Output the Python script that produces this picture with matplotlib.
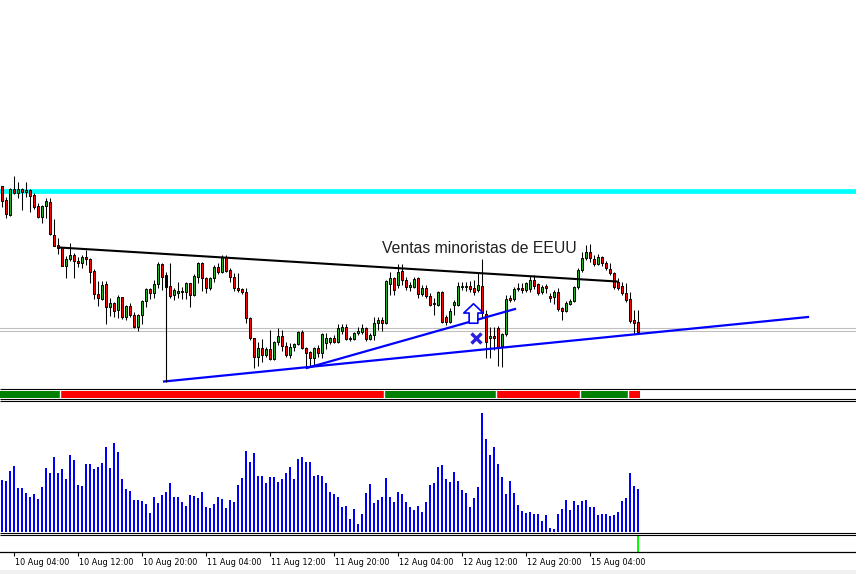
import numpy as np
import matplotlib
matplotlib.use("Agg")
import matplotlib.pyplot as plt
from matplotlib.lines import Line2D
from matplotlib.patches import Rectangle
from matplotlib.path import Path
from matplotlib.transforms import ScaledTranslation

# M30 candles, price in points (chart units)
opens = [214, 200, 185, 211, 207, 211, 208, 210, 205, 194,
         183, 194, 198, 165, 155, 152, 134, 141, 145, 139,
         137, 143, 141, 129, 106, 101, 116, 93, 97, 90,
         103, 83, 94, 85, 73, 85, 99, 111, 107, 116,
         136, 125, 114, 105, 107, 109, 108, 117, 105, 123,
         137, 122, 112, 122, 133, 128, 143, 130, 123, 112,
         111, 108, 82, 62, 43, 52, 45, 51, 41, 58,
         64, 54, 45, 53, 56, 68, 52, 48, 42, 52,
         47, 57, 58, 62, 58, 69, 73, 62, 61, 67,
         68, 72, 61, 65, 77, 80, 77, 116, 122, 115,
         129, 120, 113, 113, 122, 106, 112, 104, 97, 95,
         108, 83, 78, 95, 95, 113, 113, 114, 112, 110,
         114, 86, 62, 64, 72, 54, 66, 102, 101, 111,
         112, 110, 111, 120, 116, 108, 114, 104, 103, 108,
         92, 89, 96, 99, 113, 130, 142, 148, 141, 136,
         143, 137, 131, 127, 118, 114, 107, 101, 80, 78]
highs = [214, 203, 212, 224, 218, 212, 218, 211, 207, 197,
         195, 202, 202, 181, 162, 153, 144, 157, 147, 143,
         145, 150, 142, 131, 119, 119, 119, 102, 98, 105,
         103, 95, 97, 88, 86, 100, 112, 112, 120, 138,
         137, 128, 137, 112, 118, 113, 118, 117, 126, 138,
         138, 123, 123, 135, 137, 145, 145, 132, 127, 127,
         112, 112, 83, 62, 58, 61, 53, 70, 59, 72,
         70, 58, 57, 57, 69, 70, 53, 49, 53, 55,
         67, 67, 63, 65, 76, 76, 76, 64, 68, 73,
         76, 73, 67, 83, 83, 83, 120, 128, 123, 136,
         136, 123, 118, 123, 123, 115, 115, 107, 102, 109,
         109, 85, 92, 100, 118, 118, 118, 119, 120, 128,
         141, 90, 73, 73, 74, 67, 105, 105, 113, 117,
         117, 118, 124, 125, 117, 115, 116, 107, 110, 112,
         93, 99, 101, 114, 132, 148, 155, 156, 145, 146,
         144, 139, 137, 128, 122, 118, 117, 108, 90, 90]
lows = [193, 182, 184, 206, 202, 190, 203, 188, 191, 182,
        177, 182, 165, 154, 146, 134, 122, 139, 122, 133,
        132, 135, 117, 101, 94, 100, 76, 84, 83, 82,
        81, 80, 83, 72, 69, 76, 93, 101, 102, 112,
        110, 112, 102, 100, 102, 101, 101, 93, 104, 117,
        109, 107, 110, 118, 126, 127, 128, 118, 109, 108,
        106, 77, 60, 32, 34, 38, 43, 40, 40, 55,
        49, 43, 42, 49, 55, 51, 33, 33, 35, 43,
        42, 51, 56, 57, 57, 66, 60, 59, 60, 65,
        66, 59, 60, 60, 70, 69, 76, 105, 105, 112,
        115, 110, 109, 112, 102, 104, 102, 94, 85, 94,
        77, 75, 77, 85, 94, 110, 109, 108, 105, 108,
        82, 42, 42, 50, 34, 33, 64, 98, 99, 109,
        107, 108, 108, 111, 105, 106, 107, 98, 96, 89,
        80, 88, 95, 98, 111, 128, 140, 138, 134, 135,
        134, 130, 125, 111, 110, 105, 98, 77, 66, 66]
closes = [199, 186, 211, 207, 211, 208, 210, 204, 193, 183,
          194, 199, 166, 154, 152, 134, 141, 145, 139, 137,
          143, 141, 128, 106, 102, 115, 93, 97, 89, 103,
          83, 94, 85, 73, 85, 99, 111, 107, 116, 136,
          123, 113, 104, 110, 109, 108, 117, 105, 124, 137,
          122, 112, 122, 133, 128, 143, 129, 123, 112, 110,
          108, 82, 62, 43, 52, 45, 51, 41, 58, 64,
          54, 45, 53, 56, 68, 52, 47, 42, 52, 47,
          66, 62, 62, 58, 72, 73, 61, 61, 67, 69,
          72, 61, 65, 77, 80, 77, 119, 122, 110, 128,
          120, 113, 115, 121, 106, 112, 104, 95, 96, 108,
          78, 78, 89, 98, 114, 114, 114, 111, 108, 115,
          87, 58, 64, 62, 53, 66, 101, 100, 111, 112,
          110, 117, 120, 114, 107, 113, 112, 102, 108, 91,
          89, 97, 99, 113, 130, 142, 148, 142, 136, 143,
          137, 132, 127, 113, 112, 107, 100, 79, 77, 68]

# tick volume per bar
volumes = [52, 51, 61, 66, 44, 44, 39, 35, 38, 33,
           45, 64, 59, 75, 59, 63, 53, 77, 72, 47,
           46, 68, 68, 63, 65, 69, 85, 64, 89, 80,
           53, 43, 41, 32, 32, 31, 28, 19, 35, 29,
           37, 40, 49, 35, 35, 30, 26, 37, 36, 34,
           40, 25, 24, 28, 35, 33, 24, 32, 30, 47,
           54, 81, 70, 79, 56, 56, 49, 55, 55, 50,
           53, 59, 65, 53, 73, 75, 70, 70, 56, 57,
           56, 49, 40, 38, 35, 25, 26, 13, 23, 8,
           18, 39, 48, 29, 32, 35, 54, 35, 30, 40,
           38, 30, 25, 22, 26, 20, 30, 47, 49, 65,
           67, 53, 50, 60, 51, 42, 39, 25, 34, 45,
           119, 93, 77, 85, 68, 55, 38, 51, 39, 27,
           21, 19, 20, 18, 18, 11, 17, 4, 3, 18,
           23, 32, 22, 31, 27, 31, 32, 25, 25, 17,
           18, 18, 16, 17, 20, 31, 34, 59, 46, 43]

# trend strip: run lengths and colours
strip_runs = [15, 81, 28, 21, 12, 3]
strip_colors = ["#008000", "#ff0000", "#008000", "#ff0000", "#008000", "#ff0000"]

signal_bars = [159]

tick_bars = [3, 19, 35, 51, 67, 83, 99, 115, 131, 147]
tick_labels = ["10 Aug 04:00", "10 Aug 12:00", "10 Aug 20:00", "11 Aug 04:00",
               "11 Aug 12:00", "11 Aug 20:00", "12 Aug 04:00", "12 Aug 12:00",
               "12 Aug 20:00", "15 Aug 04:00"]

# drawn objects (bar index, price)
resistance_level = 209.3
gray_levels = [71.7, 69.0]
black_trend = ([14.3, 153.7], [152.5, 118.5])
blue_trend_low = ([40.5, 201.5], [18.5, 83.0])
blue_trend_high = ([76.2, 128.25], [32.0, 91.0])
vline_bar, vline_prices = 41, [125, 18.5]
buy_arrow = (117.8, 87.0)
close_mark = (118.5, 62.0)
news_text = (95.0, 146.7, "Ventas minoristas de EEUU")

W, H = 856, 574


def box(top, bottom):
    """ Axes rectangle from pixel rows (top-down). """
    return [0, 1 - bottom / H, 1, (bottom - top) / H]


def hline(fig, y, color="black", lw=0.8):
    fig.add_artist(Line2D([0, 1], [1 - y / H, 1 - y / H], transform=fig.transFigure,
                          color=color, lw=lw, solid_capstyle="butt"))


def main():
    fig = plt.figure(figsize=(W / 100, H / 100), dpi=100)
    fig.patch.set_facecolor("white")

    xlim = (-0.5, 213.5)
    idx = np.arange(len(opens))
    o, h, l, c = map(np.array, (opens, highs, lows, closes))

    # price panel
    ax = fig.add_axes(box(0, 388))
    ax.set_xlim(*xlim)
    ax.set_ylim(12, 400)
    ax.axis("off")
    ax.axhline(resistance_level, color="#00ffff", lw=3.4, zorder=1)
    for g in gray_levels:
        ax.axhline(g, color="#c0c0c0", lw=0.8, zorder=1)

    ax.vlines(idx, l, h, color="black", lw=0.75, zorder=2)
    up = c >= o
    body = np.maximum(np.abs(c - o), 1)
    ax.bar(idx, body, bottom=np.minimum(o, c), width=0.55,
           color=np.where(up, "#22b022", "#ff0000"), edgecolor="black", lw=0.7, zorder=3)

    ax.plot(*black_trend, color="black", lw=1.5, zorder=4)
    ax.plot(*blue_trend_low, color="#0000ff", lw=1.6, zorder=4)
    ax.plot(*blue_trend_high, color="#0000ff", lw=1.6, zorder=4)
    ax.vlines(vline_bar, *vline_prices, color="black", lw=0.8, zorder=4)

    arrow = Path([(0, 1), (1, 0.05), (0.45, 0.05), (0.45, -1), (-0.45, -1),
                  (-0.45, 0.05), (-1, 0.05), (0, 1)], closed=True)
    ax.plot(*buy_arrow, marker=arrow, ms=14, mfc="white", mec="#0000ff", mew=1.2, zorder=5)
    ax.plot(*close_mark, marker="x", ms=7, mec="#2a1fe0", mew=2.4, zorder=5)

    ax.text(news_text[0], news_text[1], news_text[2], fontsize=11.3,
            family=["Liberation Sans", "DejaVu Sans"], color="#202020",
            ha="left", va="baseline", zorder=6)

    # trend strip
    axs = fig.add_axes(box(390.5, 397.5))
    axs.set_xlim(*xlim)
    axs.set_ylim(0, 1)
    axs.axis("off")
    strip = np.repeat(strip_colors, strip_runs)
    axs.bar(np.arange(len(strip)), 1, width=1.0, color=strip, lw=0)
    for b in np.cumsum(strip_runs)[:-1]:
        axs.axvline(b - 0.5, color="white", lw=1.0)

    # volume panel
    axv = fig.add_axes(box(403, 531.5))
    axv.set_xlim(*xlim)
    axv.set_ylim(0, 128.5)
    axv.axis("off")
    axv.bar(idx, volumes, width=0.5, color="#0000ff", lw=0)

    # signal panel with time axis
    axg = fig.add_axes(box(535, 552))
    axg.set_xlim(*xlim)
    axg.set_ylim(0, 17 / 16)
    axg.bar(signal_bars, 1, width=0.6, color="#00ff00", lw=0)
    for s in ("top", "left", "right"):
        axg.spines[s].set_visible(False)
    axg.spines["bottom"].set_linewidth(0.9)
    axg.set_yticks([])
    axg.set_xticks(tick_bars)
    axg.set_xticklabels(tick_labels, fontsize=6.5, family="DejaVu Sans",
                        fontstretch="condensed")
    axg.tick_params(axis="x", direction="out", length=3, width=0.8, pad=1.5)
    shift = ScaledTranslation(1.5 / 100, 0, fig.dpi_scale_trans)
    for lab in axg.get_xticklabels():
        lab.set_ha("left")
        lab.set_transform(lab.get_transform() + shift)

    # panel separators
    for y in (388.5, 398.5, 400.5, 532.5, 534.5):
        hline(fig, y)
    fig.add_artist(Rectangle((0, 0), 1, 4.5 / H, transform=fig.transFigure,
                             color="#f0f0f0", lw=0))

    fig.savefig("out.png", dpi=100)


if __name__ == "__main__":
    main()
